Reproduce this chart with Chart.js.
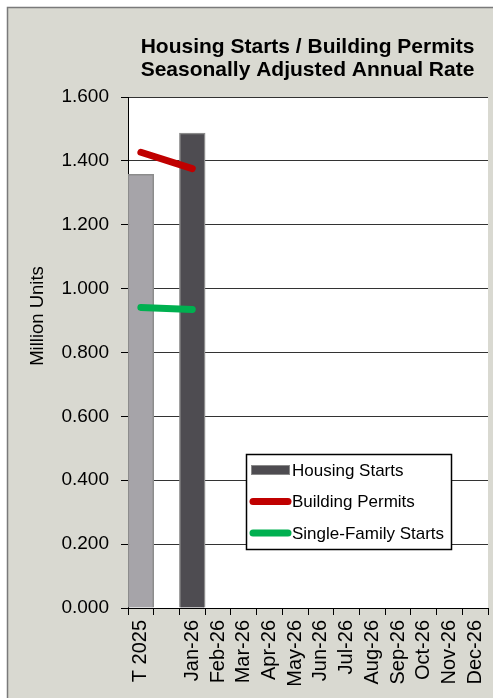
<!DOCTYPE html>
<html>
<head>
<meta charset="utf-8">
<script src="https://cdn.jsdelivr.net/npm/chart.js@4"></script>
<style>
  html, body { margin: 0; padding: 0; background: #ffffff; }
  #wrap { width: 493px; height: 698px; }
</style>
</head>
<body>
<div id="wrap"><canvas id="c" width="493" height="698"></canvas></div>
<script>
const categories = ['T 2025', '', 'Jan-26', 'Feb-26', 'Mar-26', 'Apr-26', 'May-26', 'Jun-26', 'Jul-26', 'Aug-26', 'Sep-26', 'Oct-26', 'Nov-26', 'Dec-26'];
const housingStarts = [1.358, null, 1.487, null, null, null, null, null, null, null, null, null, null, null];
const buildingPermits = [1.427, null, 1.376, null, null, null, null, null, null, null, null, null, null, null];
const singleFamilyStarts = [0.941, null, 0.935, null, null, null, null, null, null, null, null, null, null, null];
const yTicks = [0, 0.2, 0.4, 0.6, 0.8, 1.0, 1.2, 1.4, 1.6];
const titleLines = ['Housing Starts / Building Permits', 'Seasonally Adjusted Annual Rate'];
const yAxisTitle = 'Million Units';
const seriesNames = ['Housing Starts', 'Building Permits', 'Single-Family Starts'];

const FONT = '"Liberation Sans", Arial, sans-serif';
const barColors = categories.map((c, i) => i === 0 ? '#a6a4a9' : '#4e4c51');

const decor = {
  id: 'decor',
  beforeDraw(chart) {
    const ctx = chart.ctx;
    ctx.save();
    ctx.fillStyle = '#ffffff';
    ctx.fillRect(0, 0, chart.width, chart.height);
    ctx.fillStyle = '#d9d9d1';
    ctx.fillRect(7, 7, chart.width, chart.height);
    ctx.strokeStyle = '#7a7a7a';
    ctx.lineWidth = 1.5;
    ctx.strokeRect(7.5, 7.5, chart.width + 10, chart.height + 10);
    const a = chart.chartArea;
    ctx.fillStyle = '#ffffff';
    ctx.fillRect(a.left, a.top, a.right - a.left, a.bottom - a.top);
    ctx.restore();
  },
  afterDraw(chart) {
    const ctx = chart.ctx;
    ctx.save();
    // Title
    ctx.fillStyle = '#000';
    ctx.font = 'bold 21px ' + FONT;
    ctx.textAlign = 'center';
    ctx.textBaseline = 'alphabetic';
    ctx.fillText(titleLines[0], 307.5, 53);
    ctx.fillText(titleLines[1], 307.5, 75.5);
    // Y axis title
    ctx.font = '18.5px ' + FONT;
    ctx.translate(38, 316);
    ctx.rotate(-Math.PI / 2);
    ctx.textBaseline = 'middle';
    ctx.fillText(yAxisTitle, 0, 0);
    ctx.restore();

    // Legend
    ctx.save();
    const lx = 246.5, ly = 454.5, lw = 205, lh = 95;
    ctx.fillStyle = '#fff';
    ctx.fillRect(lx, ly, lw, lh);
    ctx.strokeStyle = '#000';
    ctx.lineWidth = 1.5;
    ctx.strokeRect(lx, ly, lw, lh);
    const rows = [470, 501.5, 533];
    ctx.font = '17px ' + FONT;
    ctx.textAlign = 'left';
    ctx.textBaseline = 'middle';
    const ds = chart.data.datasets;
    ctx.fillStyle = '#8a8a8a';
    ctx.fillRect(251, rows[0] - 5, 39, 10);
    ctx.fillStyle = '#4e4c51';
    ctx.fillRect(252, rows[0] - 4, 37, 8);
    for (let i = 1; i < 3; i++) {
      ctx.strokeStyle = ds[i].borderColor;
      ctx.lineWidth = 7;
      ctx.lineCap = 'round';
      ctx.beginPath();
      ctx.moveTo(253, rows[i]);
      ctx.lineTo(288, rows[i]);
      ctx.stroke();
    }
    ctx.fillStyle = '#000';
    for (let i = 0; i < 3; i++) ctx.fillText(seriesNames[i], 292, rows[i] + 1);
    ctx.restore();
  }
};

new Chart(document.getElementById('c'), {
  type: 'bar',
  data: {
    labels: categories,
    datasets: [
      {
        type: 'bar', label: seriesNames[0], data: housingStarts,
        backgroundColor: barColors, borderColor: '#8c8c8c', borderWidth: 1.5,
        barPercentage: 1, categoryPercentage: 1, order: 2
      },
      {
        type: 'line', label: seriesNames[1], data: buildingPermits,
        borderColor: '#c00000', backgroundColor: '#c00000', borderWidth: 7,
        borderCapStyle: 'round', pointRadius: 0, spanGaps: true, tension: 0, order: 1
      },
      {
        type: 'line', label: seriesNames[2], data: singleFamilyStarts,
        borderColor: '#00b050', backgroundColor: '#00b050', borderWidth: 7,
        borderCapStyle: 'round', pointRadius: 0, spanGaps: true, tension: 0, order: 1
      }
    ]
  },
  options: {
    responsive: false,
    animation: false,
    layout: { padding: { top: 97, right: 5, left: 0, bottom: 0 } },
    plugins: { legend: { display: false }, title: { display: false }, tooltip: { enabled: false } },
    scales: {
      x: {
        offset: true,
        grid: { offset: true, drawOnChartArea: false, drawTicks: true, tickLength: 7, color: '#000', tickColor: '#000' },
        border: { display: true, color: '#000', width: 1 },
        ticks: {
          autoSkip: false, minRotation: 90, maxRotation: 90, padding: 5,
          color: '#000', font: { family: FONT, size: 20 }
        },
        afterFit(scale) { scale.height = 90; scale.paddingLeft = 0; scale.paddingRight = 0; }
      },
      y: {
        min: 0, max: 1.6,
        afterBuildTicks(scale) { scale.ticks = yTicks.map(v => ({ value: v })); },
        grid: { color: '#333', tickColor: '#000', tickLength: 7, lineWidth: 1 },
        border: { display: true, color: '#000', width: 1 },
        ticks: {
          padding: 12, color: '#000', font: { family: FONT, size: 19 },
          callback: v => Number(v).toFixed(3)
        },
        afterFit(scale) { scale.width = 128; scale.paddingTop = 0; scale.paddingBottom = 0; }
      }
    }
  },
  plugins: [decor]
});
</script>
</body>
</html>
